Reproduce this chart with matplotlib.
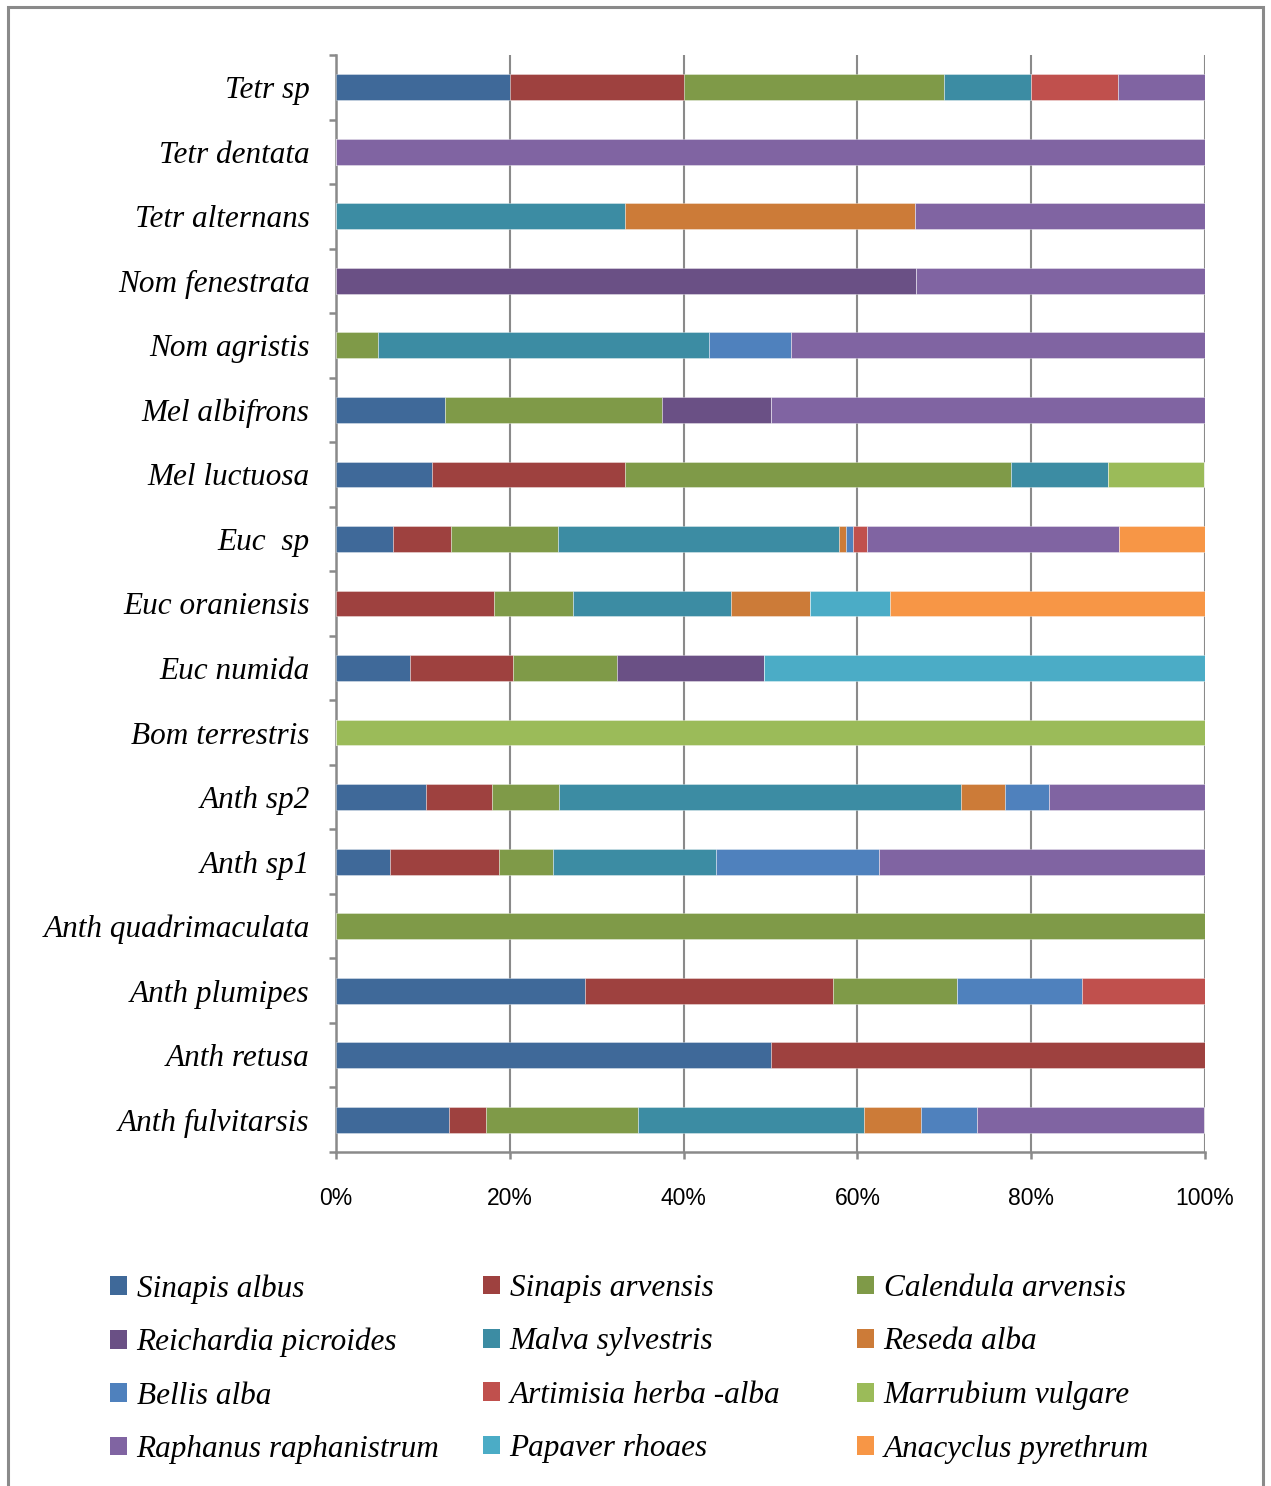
import matplotlib.pyplot as plt
import numpy as np
from matplotlib.patches import Rectangle, Patch
from matplotlib.ticker import FixedLocator, PercentFormatter

plt.rcParams['font.family'] = ['Liberation Serif', 'DejaVu Serif']

# bees, bottom to top (Excel order)
bees = ["Anth fulvitarsis", "Anth retusa", "Anth plumipes", "Anth quadrimaculata",
        "Anth sp1", "Anth sp2", "Bom terrestris", "Euc numida", "Euc oraniensis",
        "Euc  sp", "Mel luctuosa", "Mel albifrons", "Nom agristis",
        "Nom fenestrata", "Tetr alternans", "Tetr dentata", "Tetr sp"]

plants = ["Sinapis albus", "Sinapis arvensis", "Calendula arvensis",
          "Reichardia picroides", "Malva sylvestris", "Reseda alba",
          "Bellis alba", "Artimisia herba -alba", "Marrubium vulgare",
          "Raphanus raphanistrum", "Papaver rhoaes", "Anacyclus pyrethrum"]

# share of visits (%) per plant, one value per bee above
sinapis_albus = [13.0, 50, 28.6, 0, 6.25, 10.3, 0, 8.5, 0, 6.6, 11.1, 12.5, 0, 0, 0, 0, 20]
sinapis_arvensis = [4.3, 50, 28.6, 0, 12.5, 7.7, 0, 11.9, 18.2, 6.6, 22.2, 0, 0, 0, 0, 0, 20]
calendula = [17.4, 0, 14.3, 100, 6.25, 7.7, 0, 11.9, 9.1, 12.3, 44.4, 25, 4.8, 0, 0, 0, 30]
reichardia = [0, 0, 0, 0, 0, 0, 0, 16.9, 0, 0, 0, 12.5, 0, 66.7, 0, 0, 0]
malva = [26.1, 0, 0, 0, 18.75, 46.2, 0, 0, 18.2, 32.4, 11.1, 0, 38.1, 0, 33.3, 0, 10]
reseda = [6.5, 0, 0, 0, 0, 5.1, 0, 0, 9.1, 0.8, 0, 0, 0, 0, 33.3, 0, 0]
bellis = [6.5, 0, 14.3, 0, 18.75, 5.1, 0, 0, 0, 0.8, 0, 0, 9.5, 0, 0, 0, 0]
artimisia = [0, 0, 14.3, 0, 0, 0, 0, 0, 0, 1.6, 0, 0, 0, 0, 0, 0, 10]
marrubium = [0, 0, 0, 0, 0, 0, 100, 0, 0, 0, 11.1, 0, 0, 0, 0, 0, 0]
raphanus = [26.1, 0, 0, 0, 37.5, 17.9, 0, 0, 0, 29.0, 0, 50, 47.6, 33.3, 33.4, 100, 10]
papaver = [0, 0, 0, 0, 0, 0, 0, 50.8, 9.1, 0, 0, 0, 0, 0, 0, 0, 0]
anacyclus = [0, 0, 0, 0, 0, 0, 0, 0, 36.4, 9.9, 0, 0, 0, 0, 0, 0, 0]

series = [sinapis_albus, sinapis_arvensis, calendula, reichardia, malva, reseda,
          bellis, artimisia, marrubium, raphanus, papaver, anacyclus]
colors = ["#3F6999", "#9E413F", "#7F9A48", "#6A5085", "#3C8CA3", "#CC7B38",
          "#4F81BD", "#C0504D", "#9BBB59", "#8064A2", "#4BACC6", "#F79646"]

W, H = 1271, 1486
fig = plt.figure(figsize=(W / 100, H / 100), dpi=100)
ax = fig.add_axes([336 / W, 1 - 1152 / H, (1205 - 336) / W, (1152 - 55) / H])

y = np.arange(len(bees))
left = np.zeros(len(bees))
for vals, c, name in zip(series, colors, plants):
    vals = np.array(vals, dtype=float)
    ax.barh(y, vals, left=left, height=0.4, color=c, label=name,
            edgecolor=(1, 1, 1, 0.4), linewidth=0.6, zorder=3)
    left += vals

grid_c = "#8A8A8A"
ax.set_xlim(0, 100)
ax.set_ylim(-0.5, len(bees) - 0.5)
ax.set_xticks(np.arange(0, 101, 20))
ax.xaxis.set_major_formatter(PercentFormatter(decimals=0))
ax.grid(axis='x', color=grid_c, linewidth=1.5, zorder=0)
for s in ['top', 'right']:
    ax.spines[s].set_visible(False)
for s in ['left', 'bottom']:
    ax.spines[s].set_color(grid_c)
    ax.spines[s].set_linewidth(1.8)

ax.set_yticks(y)
ax.set_yticklabels(bees, fontsize=22.5, style='italic')
ax.yaxis.set_minor_locator(FixedLocator(np.arange(-0.5, len(bees), 1)))
ax.tick_params(axis='y', which='major', length=0, pad=19)
ax.tick_params(axis='y', which='minor', length=5, width=1.8, color=grid_c)
ax.tick_params(axis='x', length=5, width=1.8, color=grid_c, pad=20, labelsize=16.5)
for lab in ax.get_xticklabels():
    lab.set_family('Liberation Sans')

# legend laid out row by row, as three single-column legends
handles = [Patch(facecolor=c, edgecolor='none') for c in colors]
col_x = [110, 483, 857]
for k in range(3):
    idx = list(range(k, len(plants), 3))
    fig.legend([handles[i] for i in idx], [plants[i] for i in idx],
               loc='upper left', bbox_to_anchor=(col_x[k] / W, 1 - 1274 / H),
               frameon=False, prop={'family': 'Liberation Serif', 'style': 'italic', 'size': 22.5},
               handlelength=0.55, handleheight=0.55, handletextpad=0.3,
               labelspacing=0.78, borderpad=0, borderaxespad=0)

fig.patches.append(Rectangle((8 / W, -0.01), (1263 - 8) / W, (H - 7) / H + 0.01,
                             transform=fig.transFigure, fill=False,
                             edgecolor=grid_c, linewidth=2.2, clip_on=False))

fig.savefig("out.png", dpi=100)
